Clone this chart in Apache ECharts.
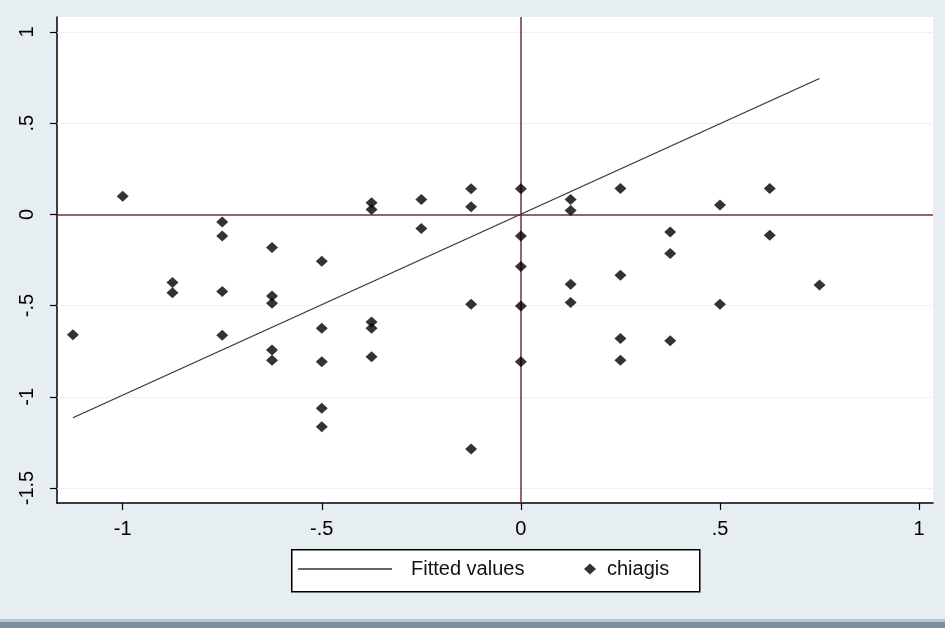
<!DOCTYPE html>
<html>
<head>
<meta charset="utf-8">
<script src="https://cdn.jsdelivr.net/npm/echarts@6/dist/echarts.min.js"></script>
<style>html,body{margin:0;padding:0;background:#e7eef1}#c{width:945px;height:628px}</style>
</head>
<body>
<div id="c"></div>
<script>
// ---- data ----
const seriesNames = ["Fitted values", "chiagis"];
const pointX = [
  -1.125,
  -1.0,
  -0.875, -0.875,
  -0.75, -0.75, -0.75, -0.75,
  -0.625, -0.625, -0.625, -0.625, -0.625,
  -0.5, -0.5, -0.5, -0.5, -0.5,
  -0.375, -0.375, -0.375, -0.375, -0.375,
  -0.25, -0.25,
  -0.125, -0.125, -0.125, -0.125,
  0, 0, 0, 0, 0,
  0.125, 0.125, 0.125, 0.125,
  0.25, 0.25, 0.25, 0.25,
  0.375, 0.375, 0.375,
  0.5, 0.5,
  0.625, 0.625,
  0.75
];
const pointY = [
  -0.66,
  0.10,
  -0.374, -0.429,
  -0.042, -0.119, -0.423, -0.662,
  -0.182, -0.447, -0.487, -0.743, -0.80,
  -0.257, -0.624, -0.808, -1.063, -1.164,
  0.064, 0.027, -0.59, -0.624, -0.78,
  0.082, -0.078,
  0.14, 0.042, -0.493, -1.286,
  0.14, -0.119, -0.286, -0.502, -0.808,
  0.082, 0.022, -0.383, -0.483,
  0.142, -0.334, -0.68, -0.80,
  -0.097, -0.215, -0.693,
  0.051, -0.493,
  0.142, -0.115,
  -0.387
];
const fittedX = [-1.125, 0.75];
const fittedY = [-1.115, 0.745];
const xTicks = [-1, -0.5, 0, 0.5, 1];
const xTickLabels = ["-1", "-.5", "0", ".5", "1"];
const yTicks = [-1.5, -1, -0.5, 0, 0.5, 1];
const yTickLabels = ["-1.5", "-1", "-.5", "0", ".5", "1"];

// ---- chart ----
const chart = echarts.init(document.getElementById('c'), null, {renderer: 'canvas'});
const font = 'Liberation Sans';
const scatterData = pointX.map((x, i) => [x, pointY[i]]);
const lineData = fittedX.map((x, i) => [x, fittedY[i]]);
const fmt = (ticks, labels) => v => {
  for (let i = 0; i < ticks.length; i++) if (Math.abs(ticks[i] - v) < 1e-9) return labels[i];
  return '';
};

chart.setOption({
  backgroundColor: '#e7eef1',
  animation: false,
  grid: {left: 57, right: 12, top: 17, bottom: 125, show: true, backgroundColor: '#ffffff', borderWidth: 0},
  xAxis: {
    type: 'value', min: -1.165, max: 1.035,
    axisLine: {show: true, onZero: false, lineStyle: {color: '#000', width: 1.5}},
    axisTick: {show: true, length: 7, customValues: xTicks, lineStyle: {color: '#000', width: 1.2}},
    axisLabel: {customValues: xTicks, formatter: fmt(xTicks, xTickLabels), color: '#000', fontFamily: font, fontSize: 20, margin: 16},
    splitLine: {show: false}
  },
  yAxis: {
    type: 'value', min: -1.582, max: 1.082,
    axisLine: {show: true, onZero: false, lineStyle: {color: '#000', width: 1.5}},
    axisTick: {show: true, length: 7, customValues: yTicks, lineStyle: {color: '#000', width: 1.2}},
    axisLabel: {customValues: yTicks, formatter: fmt(yTicks, yTickLabels), rotate: 90, color: '#000', fontFamily: font, fontSize: 20, margin: 20},
    splitLine: {show: false}
  },
  legend: [
    {data: [{name: seriesNames[0], icon: 'rect'}], left: 298, top: 559, padding: 0,
     itemWidth: 94, itemHeight: 1.5,
     textStyle: {fontFamily: font, fontSize: 20, color: '#111', padding: [0, 0, 0, 14]}},
    {data: [{name: seriesNames[1], icon: 'diamond'}], left: 584, top: 559, padding: 0,
     itemWidth: 12, itemHeight: 11,
     textStyle: {fontFamily: font, fontSize: 20, color: '#111', padding: [0, 0, 0, 6]}}
  ],
  graphic: [
    {type: 'rect', left: 291, top: 549, z: -1, shape: {width: 408, height: 42},
     style: {fill: '#fff', stroke: '#000', lineWidth: 1.5}, silent: true},
    {type: 'rect', left: 0, top: 619, shape: {width: 945, height: 3}, style: {fill: '#b9c5cc'}, silent: true},
    {type: 'rect', left: 0, top: 622, shape: {width: 945, height: 6}, style: {fill: '#7f909b'}, silent: true}
  ],
  series: [
    {
      name: seriesNames[0], type: 'line', data: lineData, showSymbol: false, symbol: 'none',
      color: '#333', lineStyle: {color: '#333', width: 1.2}, z: 3,
      markLine: {
        silent: true, symbol: 'none', animation: false, label: {show: false}, z: 1,
        lineStyle: {color: '#eef2f4', width: 1, type: 'solid'},
        data: yTicks.filter(v => v !== 0).map(v => ({yAxis: v}))
      }
    },
    {
      name: seriesNames[1], type: 'scatter', data: scatterData, symbol: 'diamond', symbolSize: [12, 11],
      color: '#000', itemStyle: {color: '#000'}, z: 4,
      markLine: {
        silent: true, symbol: 'none', animation: false, label: {show: false}, z: 2,
        lineStyle: {color: '#7d2c3c', width: 1.5, type: 'solid'},
        data: [{xAxis: 0}, {yAxis: 0}]
      }
    }
  ]
});
</script>
</body>
</html>
